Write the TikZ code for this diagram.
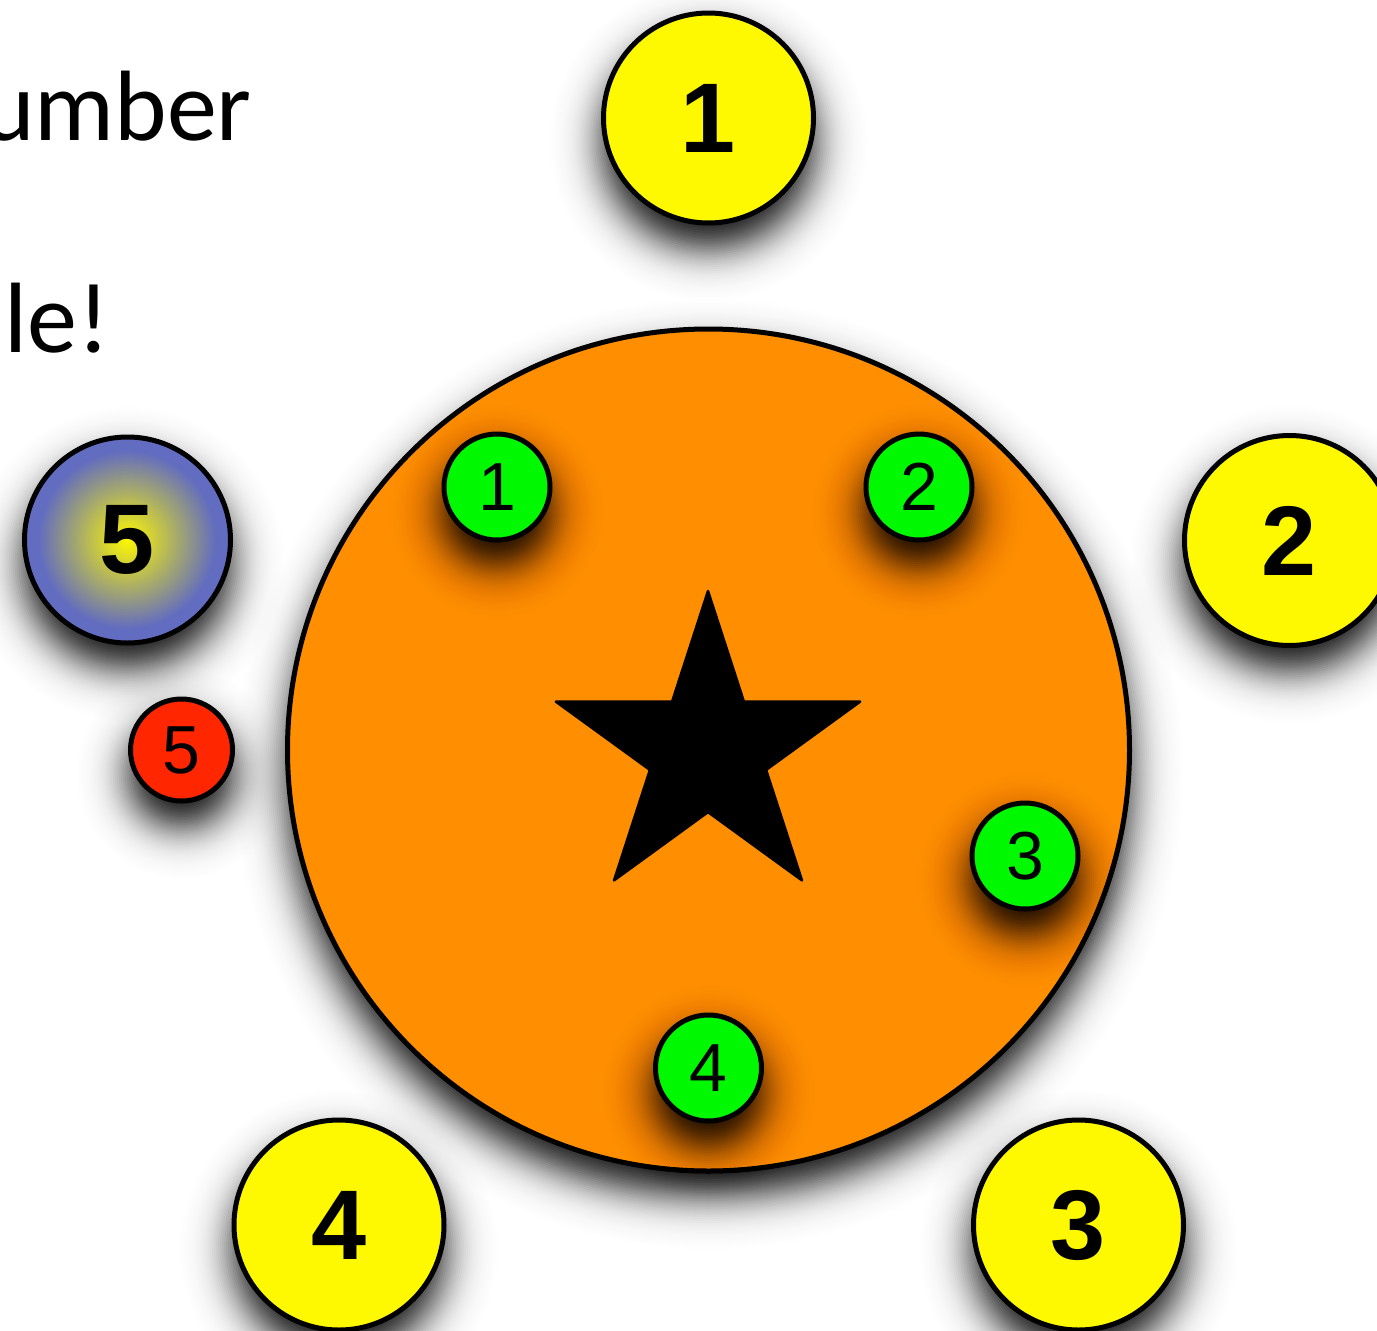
\documentclass[tikz,border=0pt]{standalone}
\usepackage{fontspec}
\newfontfamily\helv{Liberation Sans}
\newfontfamily\gill{Carlito}
\definecolor{ylw}{RGB}{255,249,0}
\definecolor{orng}{RGB}{255,143,0}
\definecolor{grn}{RGB}{0,248,0}
\definecolor{rd}{RGB}{255,38,0}
\definecolor{blu}{RGB}{98,108,192}
% soft drop shadow: stacked discs approximating a blurred disc
\newcommand\dropshadow[3]{%
  \foreach \k in {0,...,45}{%
    \pgfmathsetmacro\rr{#3+60-2*\k}%
    \pgfmathsetmacro\da{0.95/(1+exp(-1.702*(2*\k-60)/22))}%
    \pgfmathsetmacro\db{0.95/(1+exp(-1.702*(2*\k-62)/22))}%
    \pgfmathsetmacro\op{1-(1-\da)/(1-\db)}%
    \fill[black, opacity=\op] (#1,#2+24) circle (\rr pt);}}
\tikzset{
  disc/.style={circle, draw=black, line width=5pt, inner sep=0pt},
  bigdisc/.style={disc, minimum size=210pt, font=\helv\bfseries\fontsize{99pt}{99pt}\selectfont},
  smalldisc/.style={disc, minimum size=106pt, font=\helv\fontsize{68pt}{68pt}\selectfont},
  yel/.style={bigdisc, fill=ylw},
  gr/.style={smalldisc, fill=grn},
  bigtext/.style={anchor=base east, inner sep=0pt, font=\gill\fontsize{100pt}{100pt}\selectfont}
}
\begin{document}
\begin{tikzpicture}[x=1pt,y=-1pt]
\useasboundingbox (0,0) rectangle (1377,1331);
\fill[white] (0,0) rectangle (1377,1331);
% texts
\node[bigtext] (t1) at (252,140) {umber};
\node[bigtext] (t2) at (110,352) {ule!};
% big orange circle
\dropshadow{708.5}{750}{421}
\node[disc, minimum size=842pt, fill=orng] (big) at (708.5,750) {};
% star
\draw[fill=black, line width=2.5pt, line join=round]
  (708,591) -- (672.1,701.6) -- (555.8,701.6) -- (649.9,769.9) -- (614.0,880.4)
  -- (708,812.1) -- (802.0,880.4) -- (766.1,769.9) -- (860.2,701.6) -- (743.9,701.6) -- cycle;
% green inner
\dropshadow{497}{487}{53}
\dropshadow{919}{487}{53}
\dropshadow{1025}{856}{53}
\dropshadow{708.5}{1068}{53}
\node[gr] (g1) at (497,487) {1};
\node[gr] (g2) at (919,487) {2};
\node[gr] (g3) at (1025,856) {3};
\node[gr] (g4) at (708.5,1068) {4};
% yellow outer
\dropshadow{708.5}{118}{105}
\dropshadow{1289.5}{540.5}{105}
\dropshadow{1078.5}{1225}{105}
\dropshadow{339}{1225}{105}
\node[yel] (y1) at (708.5,118) {1};
\node[yel] (y2) at (1289.5,540.5) {2};
\node[yel] (y3) at (1078.5,1225) {3};
\node[yel] (y4) at (339,1225) {4};
% blue 5 with radial gradient
\dropshadow{127.5}{540}{103}
\foreach \i in {0,...,51}{%
  \pgfmathsetmacro\rr{103-2*\i}%
  \pgfmathsetmacro\pc{min(100,100*\rr/90)}%
  \fill[blu!\pc!ylw] (127.5,540) circle (\rr pt);}
\node[bigdisc, minimum size=206pt] (b5) at (127.5,540) {5};
% red 5
\dropshadow{181.5}{750}{51}
\node[smalldisc, minimum size=102pt, fill=rd] (r5) at (181.5,750) {5};
\end{tikzpicture}
\end{document}
